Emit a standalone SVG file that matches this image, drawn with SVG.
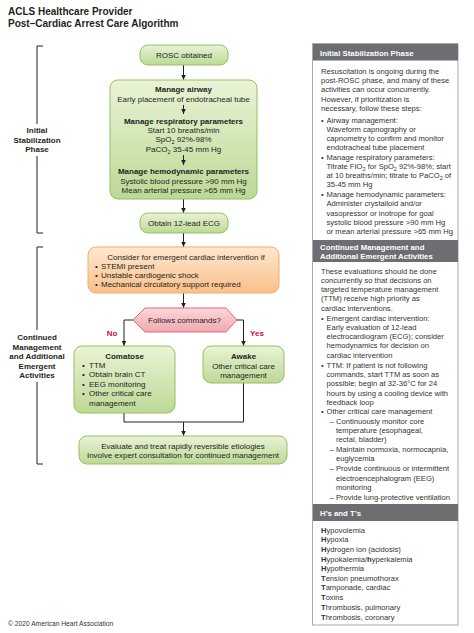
<svg xmlns="http://www.w3.org/2000/svg" width="474" height="633" viewBox="0 0 474 633">
<defs>
<linearGradient id="gGreen" x1="0" y1="0" x2="0" y2="1"><stop offset="0" stop-color="#eaf3d6"/><stop offset="1" stop-color="#bcd996"/></linearGradient>
<linearGradient id="gOrange" x1="0" y1="0" x2="0" y2="1"><stop offset="0" stop-color="#fee8d0"/><stop offset="1" stop-color="#f9c089"/></linearGradient>
<linearGradient id="gPink" x1="0" y1="0" x2="0" y2="1"><stop offset="0" stop-color="#fbd6da"/><stop offset="1" stop-color="#f2a8b1"/></linearGradient>
<marker id="ah" viewBox="0 0 6 6" refX="6" refY="3" markerWidth="5" markerHeight="5" markerUnits="userSpaceOnUse" orient="auto"><path d="M0,0.3 L6,3 L0,5.7 z" fill="#231f20"/></marker>
</defs>
<style>
text{font-family:"Liberation Sans",Arial,sans-serif;fill:#231f20}
.t{font-size:10px;font-weight:bold}
.f{font-size:8px}
.fc{font-size:8px;text-anchor:middle}
.b{font-weight:bold}
.lab{font-size:8px;font-weight:bold;text-anchor:middle}
.green{fill:url(#gGreen);stroke:#95c062;stroke-width:1}
.orange{fill:url(#gOrange);stroke:#f1ad6b;stroke-width:1}
.pink{fill:url(#gPink);stroke:#d8707d;stroke-width:1}
.red{font-size:8px;font-weight:bold;fill:#c8102e;text-anchor:middle}
.ln{fill:none;stroke:#231f20;stroke-width:1}
.arr{fill:none;stroke:#231f20;stroke-width:1;marker-end:url(#ah)}
.p{font-size:7.6px;fill:#333}
.hd{fill:#6d6e71}
.ht{font-size:7.8px;font-weight:bold;fill:#ffffff}
.sub{font-size:5.5px}
.foot{font-size:6.7px;fill:#333}
</style>
<rect width="474" height="633" fill="#ffffff"/>

<g id="title">
<text class="t" x="8" y="15">ACLS Healthcare Provider</text>
<text class="t" x="8" y="27">Post–Cardiac Arrest Care Algorithm</text>
</g>

<g id="bracket-initial">
<path class="ln" d="M43,46 H37 V124 M37,156 V233 H43"/>
<text class="lab" x="37" y="133">Initial</text>
<text class="lab" x="37" y="142.5">Stabilization</text>
<text class="lab" x="37" y="152">Phase</text>
</g>

<g id="bracket-continued">
<path class="ln" d="M43,247 H37 V330 M37,382 V464 H43"/>
<text class="lab" x="37" y="340">Continued</text>
<text class="lab" x="37" y="350">Management</text>
<text class="lab" x="37" y="359">and Additional</text>
<text class="lab" x="37" y="369">Emergent</text>
<text class="lab" x="37" y="378">Activities</text>
</g>

<g id="connectors">
<line class="arr" x1="183.5" y1="65" x2="183.5" y2="80"/>
<line class="arr" x1="183.5" y1="199" x2="183.5" y2="213"/>
<line class="arr" x1="183.5" y1="233" x2="183.5" y2="247"/>
<line class="arr" x1="183.5" y1="293" x2="183.5" y2="308"/>
<path class="arr" d="M133,320 H124 V346"/>
<path class="arr" d="M237,320 H243.5 V346"/>
<path class="ln" d="M124,413 V422 H243.5 V383"/>
<line class="arr" x1="183.5" y1="422" x2="183.5" y2="436"/>
</g>

<g id="node-rosc">
<rect class="green" x="140" y="45" width="88" height="20" rx="8"/>
<text class="fc" x="184" y="58">ROSC obtained</text>
</g>

<g id="node-manage">
<rect class="green" x="110" y="80" width="147" height="119" rx="8"/>
<text class="fc b" x="183.5" y="92">Manage airway</text>
<text class="fc" x="183.5" y="102">Early placement of endotracheal tube</text>
<line class="arr" x1="183.5" y1="105" x2="183.5" y2="114"/>
<text class="fc b" x="183.5" y="124">Manage respiratory parameters</text>
<text class="fc" x="183.5" y="133">Start 10 breaths/min</text>
<text class="fc" x="183.5" y="142">SpO<tspan class="sub" dy="1.5">2</tspan><tspan dy="-1.5"> 92%-98%</tspan></text>
<text class="fc" x="183.5" y="152">PaCO<tspan class="sub" dy="1.5">2</tspan><tspan dy="-1.5"> 35-45 mm Hg</tspan></text>
<line class="arr" x1="183.5" y1="155" x2="183.5" y2="165"/>
<text class="fc b" x="183.5" y="174">Manage hemodynamic parameters</text>
<text class="fc" x="183.5" y="184">Systolic blood pressure &gt;90 mm Hg</text>
<text class="fc" x="183.5" y="193">Mean arterial pressure &gt;65 mm Hg</text>
</g>

<g id="node-ecg">
<rect class="green" x="140" y="213" width="88" height="20" rx="8"/>
<text class="fc" x="184" y="226">Obtain 12-lead ECG</text>
</g>

<g id="node-emergent">
<rect class="orange" x="88" y="247" width="191" height="46" rx="8"/>
<text class="fc" x="186" y="259.5">Consider for emergent cardiac intervention if</text>
<text class="f" x="95" y="268.5">•</text><text class="f" x="101" y="268.5">STEMI present</text>
<text class="f" x="95" y="278">•</text><text class="f" x="101" y="278">Unstable cardiogenic shock</text>
<text class="f" x="95" y="287">•</text><text class="f" x="101" y="287">Mechanical circulatory support required</text>
</g>

<g id="node-follows">
<polygon class="pink" points="133,320 145,308 226,308 237,320 226,332 145,332"/>
<text class="fc" x="184.5" y="323">Follows commands?</text>
</g>

<g id="labels-branch">
<text class="red" x="112" y="336">No</text>
<text class="red" x="257" y="336">Yes</text>
</g>

<g id="node-comatose">
<rect class="green" x="74" y="346" width="101" height="67" rx="8"/>
<text class="fc b" x="124.5" y="359">Comatose</text>
<text class="f" x="82" y="368">•</text><text class="f" x="89" y="368">TTM</text>
<text class="f" x="82" y="377">•</text><text class="f" x="89" y="377">Obtain brain CT</text>
<text class="f" x="82" y="387">•</text><text class="f" x="89" y="387">EEG monitoring</text>
<text class="f" x="82" y="396">•</text><text class="f" x="89" y="396">Other critical care</text>
<text class="f" x="89" y="406">management</text>
</g>

<g id="node-awake">
<rect class="green" x="203" y="346" width="81" height="37" rx="8"/>
<text class="fc b" x="243.5" y="359">Awake</text>
<text class="fc" x="243.5" y="368.5">Other critical care</text>
<text class="fc" x="243.5" y="377.5">management</text>
</g>

<g id="node-evaluate">
<rect class="green" x="79" y="436" width="208" height="28" rx="8"/>
<text class="fc" x="183" y="449">Evaluate and treat rapidly reversible etiologies</text>
<text class="fc" x="183" y="458">Involve expert consultation for continued management</text>
</g>

<g id="panel">
<rect x="312.5" y="43.5" width="145.5" height="581.5" fill="#ffffff" stroke="#a7a9ac" stroke-width="1"/>
<rect class="hd" x="313" y="44" width="145" height="16.5"/>
<text class="ht" x="320" y="55.5">Initial Stabilization Phase</text>
<text class="p" x="321" y="74">Resuscitation is ongoing during the</text>
<text class="p" x="321" y="83">post-ROSC phase, and many of these</text>
<text class="p" x="321" y="92">activities can occur concurrently.</text>
<text class="p" x="321" y="101.5">However, if prioritization is</text>
<text class="p" x="321" y="111">necessary, follow these steps:</text>
<text class="p" x="321" y="122.5">•</text><text class="p" x="326.5" y="122.5">Airway management:</text>
<text class="p" x="326.5" y="131.5">Waveform capnography or</text>
<text class="p" x="326.5" y="140.5">capnometry to confirm and monitor</text>
<text class="p" x="326.5" y="150">endotracheal tube placement</text>
<text class="p" x="321" y="160">•</text><text class="p" x="326.5" y="160">Manage respiratory parameters:</text>
<text class="p" x="326.5" y="169">Titrate FIO<tspan class="sub" dy="1.5">2</tspan><tspan dy="-1.5"> for SpO</tspan><tspan class="sub" dy="1.5">2</tspan><tspan dy="-1.5"> 92%-98%; start</tspan></text>
<text class="p" x="326.5" y="178">at 10 breaths/min; titrate to PaCO<tspan class="sub" dy="1.5">2</tspan><tspan dy="-1.5"> of</tspan></text>
<text class="p" x="326.5" y="187">35-45 mm Hg</text>
<text class="p" x="321" y="197">•</text><text class="p" x="326.5" y="197">Manage hemodynamic parameters:</text>
<text class="p" x="326.5" y="206">Administer crystalloid and/or</text>
<text class="p" x="326.5" y="215.5">vasopressor or inotrope for goal</text>
<text class="p" x="326.5" y="224.5">systolic blood pressure &gt;90 mm Hg</text>
<text class="p" x="326.5" y="234">or mean arterial pressure &gt;65 mm Hg</text>

<rect class="hd" x="313" y="240" width="145" height="22"/>
<text class="ht" x="320" y="249.5">Continued Management and</text>
<text class="ht" x="320" y="258.5">Additional Emergent Activities</text>
<text class="p" x="321" y="274">These evaluations should be done</text>
<text class="p" x="321" y="283">concurrently so that decisions on</text>
<text class="p" x="321" y="292">targeted temperature management</text>
<text class="p" x="321" y="301">(TTM) receive high priority as</text>
<text class="p" x="321" y="310.5">cardiac interventions.</text>
<text class="p" x="321" y="321">•</text><text class="p" x="326.5" y="321">Emergent cardiac intervention:</text>
<text class="p" x="326.5" y="330">Early evaluation of 12-lead</text>
<text class="p" x="326.5" y="339">electrocardiogram (ECG); consider</text>
<text class="p" x="326.5" y="348">hemodynamics for decision on</text>
<text class="p" x="326.5" y="357.5">cardiac intervention</text>
<text class="p" x="321" y="367.5">•</text><text class="p" x="326.5" y="367.5">TTM: If patient is not following</text>
<text class="p" x="326.5" y="377">commands, start TTM as soon as</text>
<text class="p" x="326.5" y="386">possible; begin at 32-36°C for 24</text>
<text class="p" x="326.5" y="395.5">hours by using a cooling device with</text>
<text class="p" x="326.5" y="404.5">feedback loop</text>
<text class="p" x="321" y="414">•</text><text class="p" x="326.5" y="414">Other critical care management</text>
<text class="p" x="329.5" y="424">–</text><text class="p" x="336" y="424">Continuously monitor core</text>
<text class="p" x="336" y="433">temperature (esophageal,</text>
<text class="p" x="336" y="442">rectal, bladder)</text>
<text class="p" x="329.5" y="452">–</text><text class="p" x="336" y="452">Maintain normoxia, normocapnia,</text>
<text class="p" x="336" y="461">euglycemia</text>
<text class="p" x="329.5" y="471">–</text><text class="p" x="336" y="471">Provide continuous or intermittent</text>
<text class="p" x="336" y="481">electroencephalogram (EEG)</text>
<text class="p" x="336" y="490">monitoring</text>
<text class="p" x="329.5" y="500">–</text><text class="p" x="336" y="500">Provide lung-protective ventilation</text>

<rect class="hd" x="313" y="504" width="145" height="17"/>
<text class="ht" x="320" y="515.5">H’s and T’s</text>
<text class="p" x="321" y="533"><tspan class="b">H</tspan>ypovolemia</text>
<text class="p" x="321" y="542"><tspan class="b">H</tspan>ypoxia</text>
<text class="p" x="321" y="552"><tspan class="b">H</tspan>ydrogen ion (acidosis)</text>
<text class="p" x="321" y="561.5"><tspan class="b">H</tspan>ypokalemia/<tspan class="b">h</tspan>yperkalemia</text>
<text class="p" x="321" y="571"><tspan class="b">H</tspan>ypothermia</text>
<text class="p" x="321" y="581"><tspan class="b">T</tspan>ension pneumothorax</text>
<text class="p" x="321" y="590"><tspan class="b">T</tspan>amponade, cardiac</text>
<text class="p" x="321" y="600"><tspan class="b">T</tspan>oxins</text>
<text class="p" x="321" y="610"><tspan class="b">T</tspan>hrombosis, pulmonary</text>
<text class="p" x="321" y="620"><tspan class="b">T</tspan>hrombosis, coronary</text>
</g>

<g id="footer">
<text class="foot" x="8" y="625.5">© 2020 American Heart Association</text>
</g>
</svg>
